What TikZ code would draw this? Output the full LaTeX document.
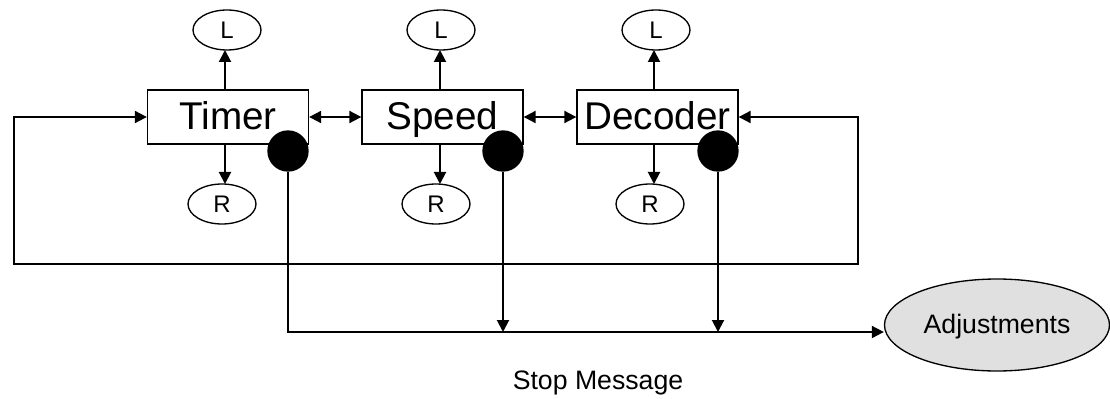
\documentclass[tikz,border=0pt]{standalone}
\usepackage{fontspec}
\setmainfont{Liberation Sans}
\usetikzlibrary{arrows.meta,shapes.geometric}
\begin{document}
\begin{tikzpicture}[x=0.75pt,y=-0.75pt,
  arr/.style={line width=1.5pt,-{Triangle[length=9pt,width=9pt]}},
  darr/.style={line width=1.5pt,{Triangle[length=9pt,width=9pt]}-{Triangle[length=9pt,width=9pt]}},
  blk/.style={draw,line width=1pt,minimum width=120.75pt,minimum height=40.5pt,inner sep=0pt,text height=20.8pt,text depth=1.5pt,font=\fontsize{29}{34}\selectfont},
  lr/.style={draw,ellipse,line width=1pt,minimum width=51pt,minimum height=30pt,inner sep=0pt,text height=12.9pt,text depth=0pt,font=\fontsize{18}{21}\selectfont},
  dot/.style={circle,fill=black,minimum size=31pt,inner sep=0pt},
  big/.style={draw,ellipse,line width=1pt,fill={rgb,255:red,224;green,224;blue,224},minimum width=168.75pt,minimum height=69pt,inner sep=0pt,text height=14.3pt,text depth=2pt,font=\fontsize{20}{24}\selectfont}
]
\useasboundingbox (0,0) rectangle (1110,399);
% boxes
\node[blk] (timer) at (228,117) {Timer};
\node[blk] (speed) at (442.5,117) {Speed};
\node[blk] (decoder) at (657.5,117) {Decoder};
% L / R ellipses
\node[lr] (Lt) at (227,30) {L};
\node[lr] (Ls) at (441,30) {L};
\node[lr] (Ld) at (656,30) {L};
\node[lr] (Rt) at (222,204) {R};
\node[lr] (Rs) at (436,204) {R};
\node[lr] (Rd) at (650,204) {R};
\draw[arr] (timer.north -| 225,0) -- (225,50);
\draw[arr] (speed.north -| 440,0) -- (440,50);
\draw[arr] (decoder.north -| 654,0) -- (654,50);
\draw[arr] (timer.south -| 225,0) -- (225,184);
\draw[arr] (speed.south -| 440,0) -- (440,184);
\draw[arr] (decoder.south -| 654,0) -- (654,184);
% dots
\node[dot] (dt) at (288,151) {};
\node[dot] (ds) at (503,151) {};
\node[dot] (dd) at (718,151) {};
% double arrows
\draw[darr] (timer.east) -- (speed.west);
\draw[darr] (speed.east) -- (decoder.west);
% feedback loop
\coordinate (fl1) at (14,117);
\coordinate (fl2) at (14,264);
\coordinate (fr2) at (858,264);
\coordinate (fr1) at (858,117);
\draw[darr] (timer.west) -- (fl1) -- (fl2) -- (fr2) -- (fr1) -- (decoder.east);
% adjustments
\node[big] (adj) at (997,325) {Adjustments};
\coordinate (bl) at (288,332);
\draw[arr] (dt.south) -- (bl) -- (bl -| adj.west);
\draw[arr] (ds.south) -- (503,332);
\draw[arr] (dd.south) -- (718,332);
\node[font=\fontsize{20}{24}\selectfont] (stop) at (598,383) {Stop Message};
\end{tikzpicture}
\end{document}
